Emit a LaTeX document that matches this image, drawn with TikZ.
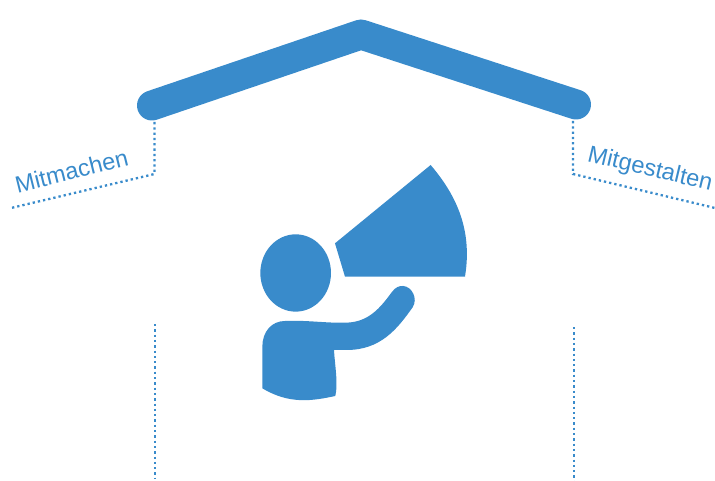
\documentclass[tikz,border=0pt]{standalone}
\usepackage{fontspec}
\setmainfont{Liberation Sans}
\definecolor{hausblau}{RGB}{57,139,203}
\tikzset{
  dotline/.style={hausblau,line width=2.3pt,dash pattern=on 2.3pt off 3pt},
  lbl/.style={text=hausblau,font=\fontsize{23.6pt}{27pt}\selectfont,inner sep=0pt,anchor=center},
  blue shape/.style={fill=hausblau,draw=none}
}
\begin{document}
\begin{tikzpicture}[x=1pt,y=-1pt]
\useasboundingbox (0,0) rectangle (715,481);
% roof
\draw[hausblau,line width=30pt,line cap=round,line join=round] (152,105.5) -- (361,34.5) -- (576,104.5);
% dotted guide lines
\coordinate (la) at (154.5,122);
\coordinate (lb) at (154.5,174);
\coordinate (lc) at (11,208);
\coordinate (ra) at (573,121);
\coordinate (rb) at (573,174);
\coordinate (rc) at (715,208);
\coordinate (wla) at (155,324);
\coordinate (wlb) at (155,478);
\coordinate (wra) at (574,327);
\coordinate (wrb) at (574,481);
\draw[dotline] (la) -- (lb) -- (lc);
\draw[dotline] (ra) -- (rb) -- (rc);
\draw[dotline] (wla) -- (wlb);
\draw[dotline] (wra) -- (wrb);
% labels
\node[lbl,rotate=14] (mitmachen) at (71.5,171) {Mitmachen};
\node[lbl,rotate=-13.5] (mitgestalten) at (650,170) {Mitgestalten};
% person with megaphone
\begin{scope}[shift={(230,150)},x=0.3333pt,y=-0.3333pt]
\fill[blue shape] (602,45) .. controls (670,125) and (730,230) .. (705,380) -- (345,380) -- (315,280) -- cycle;
\fill[blue shape] (197,369) ellipse [x radius=106,y radius=116];
\fill[blue shape] (97,715) -- (97,590)
  .. controls (97,545) and (125,513) .. (165,513)
  .. controls (230,510) and (290,520) .. (350,518)
  .. controls (415,516) and (450,475) .. (485,427)
  .. controls (497,410) and (510,407) .. (520,408)
  .. controls (545,410) and (565,445) .. (548,472)
  .. controls (500,540) and (450,600) .. (350,600)
  -- (312,600)
  .. controls (314,640) and (325,700) .. (316,738)
  .. controls (250,752) and (180,765) .. (97,715) -- cycle;
\end{scope}
\end{tikzpicture}
\end{document}
